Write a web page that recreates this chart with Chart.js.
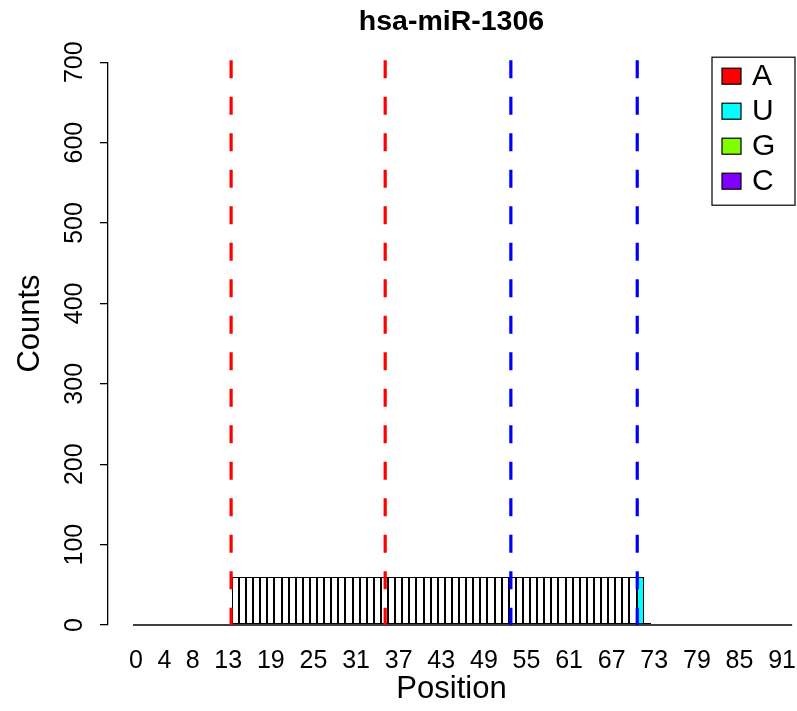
<!DOCTYPE html>
<html>
<head>
<meta charset="utf-8">
<title>hsa-miR-1306</title>
<script src="https://cdn.jsdelivr.net/npm/chart.js@4.4.1/dist/chart.umd.min.js"></script>
<style>
  html, body { margin:0; padding:0; background:#fff; }
  #wrap { width:797px; height:711px; }
</style>
</head>
<body>
<div id="wrap"><canvas id="chart" width="797" height="711"></canvas></div>
<script>
// Data
const chartTitle = 'hsa-miR-1306';
const yAxisTitle = 'Counts';
const positions = [
   0,  1,  2,  3,  4,  5,  6,  7,  8,  9,
  10, 11, 12, 13, 14, 15, 16, 17, 18, 19,
  20, 21, 22, 23, 24, 25, 26, 27, 28, 29,
  30, 31, 32, 33, 34, 35, 36, 37, 38, 39,
  40, 41, 42, 43, 44, 45, 46, 47, 48, 49,
  50, 51, 52, 53, 54, 55, 56, 57, 58, 59,
  60, 61, 62, 63, 64, 65, 66, 67, 68, 69,
  70, 71, 72, 73, 74, 75, 76, 77, 78, 79,
  80, 81, 82, 83, 84, 85, 86, 87, 88, 89,
  90, 91, 92
];
// reads matching the reference (white bars)
const refCounts = [
   0,  0,  0,  0,  0,  0,  0,  0,  0,  0,
   0,  0,  0,  0, 60, 60, 60, 60, 60, 60,
  60, 60, 60, 60, 60, 60, 60, 60, 60, 60,
  60, 60, 60, 60, 60, 60, 60, 60, 60, 60,
  60, 60, 60, 60, 60, 60, 60, 60, 60, 60,
  60, 60, 60, 60, 60, 60, 60, 60, 60, 60,
  60, 60, 60, 60, 60, 60, 60, 60, 60, 60,
  60,  0,  0,  0,  0,  0,  0,  0,  0,  0,
   0,  0,  0,  0,  0,  0,  0,  0,  0,  0,
   0,  0,  0
];
const aCounts = [
  0,0,0,0,0,0,0,0,0,0, 0,0,0,0,0,0,0,0,0,0,
  0,0,0,0,0,0,0,0,0,0, 0,0,0,0,0,0,0,0,0,0,
  0,0,0,0,0,0,0,0,0,0, 0,0,0,0,0,0,0,0,0,0,
  0,0,0,0,0,0,0,0,0,0, 0,0,0,0,0,0,0,0,0,0,
  0,0,0,0,0,0,0,0,0,0, 0,0,0
];
const uCounts = [
   0,  0,  0,  0,  0,  0,  0,  0,  0,  0,
   0,  0,  0,  0,  0,  0,  0,  0,  0,  0,
   0,  0,  0,  0,  0,  0,  0,  0,  0,  0,
   0,  0,  0,  0,  0,  0,  0,  0,  0,  0,
   0,  0,  0,  0,  0,  0,  0,  0,  0,  0,
   0,  0,  0,  0,  0,  0,  0,  0,  0,  0,
   0,  0,  0,  0,  0,  0,  0,  0,  0,  0,
   0, 60,  2,  1,  1,  0,  0,  0,  0,  0,
   0,  0,  0,  0,  0,  0,  0,  0,  0,  0,
   0,  0,  0
];
const gCounts = [
  0,0,0,0,0,0,0,0,0,0, 0,0,0,0,0,0,0,0,0,0,
  0,0,0,0,0,0,0,0,0,0, 0,0,0,0,0,0,0,0,0,0,
  0,0,0,0,0,0,0,0,0,0, 0,0,0,0,0,0,0,0,0,0,
  0,0,0,0,0,0,0,0,0,0, 0,0,0,0,0,0,0,0,0,0,
  0,0,0,0,0,0,0,0,0,0, 0,0,0
];
const cCounts = [
  0,0,0,0,0,0,0,0,0,0, 0,0,0,0,0,0,0,0,0,0,
  0,0,0,0,0,0,0,0,0,0, 0,0,0,0,0,0,0,0,0,0,
  0,0,0,0,0,0,0,0,0,0, 0,0,0,0,0,0,0,0,0,0,
  0,0,0,0,0,0,0,0,0,0, 0,0,0,0,0,0,0,0,0,0,
  0,0,0,0,0,0,0,0,0,0, 0,0,0
];
const xTickValues = [0, 4, 8, 13, 19, 25, 31, 37, 43, 49, 55, 61, 67, 73, 79, 85, 91];
const yTickValues = [0, 100, 200, 300, 400, 500, 600, 700];
// dashed marker lines (arm boundaries), in position units
const markerPositions = [13.4, 35.1, 52.8, 70.6];
const markerColors = ['#FF0000', '#FF0000', '#0000FF', '#0000FF'];

const FONT = '"Liberation Sans", Arial, Helvetica, sans-serif';

function pts(vals){ return positions.map((p, i) => ({x: p, y: vals[i]})); }

function series(label, vals, color, inLegend){
  return {
    label, data: pts(vals),
    backgroundColor: color, borderColor: '#000', borderWidth: 1,
    borderSkipped: false, barPercentage: 1, categoryPercentage: 1,
    inflateAmount: 0,
    inLegend
  };
}

// snap bar edges to whole pixels so the thin outlines stay crisp
const snapPlugin = {
  id: 'snapBars',
  beforeDatasetsDraw(chart){
    chart.data.datasets.forEach((d, i)=>{
      chart.getDatasetMeta(i).data.forEach(el=>{
        const l = Math.round(el.x - el.width / 2);
        const r = Math.round(el.x + el.width / 2);
        el.x = (l + r) / 2;
        el.width = r - l;
        el.y = Math.round(el.y);
        el.base = Math.round(el.base);
      });
    });
  }
};

// baseline for the zero-height bars, like R draws them
const baselinePlugin = {
  id: 'baseline',
  afterDatasetsDraw(chart){
    const {ctx, scales:{x, y}} = chart;
    const half = 0.5 / 1.2;
    const x0 = x.getPixelForValue(positions[0] - half);
    const x1 = x.getPixelForValue(positions[positions.length - 1] + half);
    const y0 = y.getPixelForValue(0);
    ctx.save();
    ctx.strokeStyle = '#000'; ctx.lineWidth = 1.3;
    ctx.beginPath(); ctx.moveTo(x0, y0); ctx.lineTo(x1, y0); ctx.stroke();
    ctx.restore();
  }
};

// vertical dashed lines
const markerPlugin = {
  id: 'markers',
  afterDatasetsDraw(chart){
    const {ctx, scales:{x, y}} = chart;
    ctx.save();
    ctx.lineWidth = 3.2;
    ctx.setLineDash([18, 18.5]);
    markerPositions.forEach((m, i)=>{
      const px = x.getPixelForValue(m);
      ctx.strokeStyle = markerColors[i];
      ctx.beginPath();
      ctx.moveTo(px, y.getPixelForValue(700) - 2);
      ctx.lineTo(px, y.getPixelForValue(0));
      ctx.stroke();
    });
    ctx.restore();
  }
};

// R style y labels and axis title, read bottom to top
const yLabelPlugin = {
  id: 'yLabels',
  afterDraw(chart){
    const {ctx, scales:{y}} = chart;
    ctx.save();
    ctx.fillStyle = '#000';
    ctx.textAlign = 'center';
    ctx.textBaseline = 'middle';
    ctx.font = '25px ' + FONT;
    y.ticks.forEach(t=>{
      ctx.save();
      ctx.translate(75, y.getPixelForValue(t.value));
      ctx.rotate(-Math.PI / 2);
      ctx.fillText(String(t.value), 0, 0);
      ctx.restore();
    });
    ctx.font = '31px ' + FONT;
    ctx.translate(30, y.getPixelForValue(375));
    ctx.rotate(-Math.PI / 2);
    ctx.fillText(yAxisTitle, 0, 0);
    ctx.restore();
  }
};

// boxed legend in the top-right corner
const legendPlugin = {
  id: 'boxLegend',
  afterDraw(chart){
    const {ctx, chartArea} = chart;
    const items = chart.data.datasets.filter(d => d.inLegend);
    const w = 83, rowH = 35, h = 148;
    const left = chartArea.right - w, top = chartArea.top - 5;
    ctx.save();
    ctx.fillStyle = '#fff';
    ctx.fillRect(left, top, w, h);
    ctx.strokeStyle = '#000'; ctx.lineWidth = 1.2;
    ctx.strokeRect(left, top, w, h);
    ctx.font = '30px ' + FONT;
    ctx.textBaseline = 'middle';
    items.forEach((d, i)=>{
      const cy = top + 19 + i * rowH;
      ctx.fillStyle = d.backgroundColor;
      ctx.fillRect(left + 10, cy - 8, 19, 16);
      ctx.strokeRect(left + 10, cy - 8, 19, 16);
      ctx.fillStyle = '#000';
      ctx.fillText(d.label, left + 40, cy + 1);
    });
    ctx.restore();
  }
};

new Chart(document.getElementById('chart'), {
  type: 'bar',
  data: {
    datasets: [
      series('ref', refCounts, '#FFFFFF', false),
      series('A', aCounts, '#FF0000', true),
      series('U', uCounts, '#00FFFF', true),
      series('G', gCounts, '#80FF00', true),
      series('C', cCounts, '#8000FF', true)
    ]
  },
  options: {
    responsive: false,
    animation: false,
    devicePixelRatio: 1,
    layout: { autoPadding: false, padding: { left: 0, right: 2, top: 0, bottom: 0 } },
    plugins: {
      legend: { display: false },
      tooltip: { enabled: false },
      title: {
        display: true, text: chartTitle, color: '#000', fullSize: false,
        font: { family: FONT, size: 28.5, weight: 'bold' },
        padding: { top: 5, bottom: 23 }
      }
    },
    scales: {
      x: {
        type: 'linear', stacked: true, offset: false,
        min: -3.94, max: 92.82,
        afterBuildTicks(scale){ scale.ticks = xTickValues.map(v => ({value: v})); },
        afterFit(scale){ scale.height = 86; scale.paddingLeft = 0; scale.paddingRight = 0; },
        grid: { display: false, drawTicks: false, offset: false },
        border: { display: false },
        ticks: {
          color: '#000', font: { family: FONT, size: 25 },
          autoSkip: false, maxRotation: 0, minRotation: 0, padding: 21,
          callback: v => String(v)
        },
        title: {
          display: true, text: 'Position', color: '#000',
          font: { family: FONT, size: 31 }, padding: { top: 0, bottom: 3 }
        }
      },
      y: {
        type: 'linear', stacked: true, min: 0, max: 700,
        afterBuildTicks(scale){ scale.ticks = yTickValues.map(v => ({value: v})); },
        afterFit(scale){ scale.width = 108; scale.paddingTop = 0; scale.paddingBottom = 0; },
        grid: { display: true, drawOnChartArea: false, drawTicks: true, tickLength: 8, color: '#000', lineWidth: 1.3 },
        border: { display: true, color: '#000', width: 1.3 },
        ticks: { display: false },
        title: { display: false }
      }
    }
  },
  plugins: [snapPlugin, baselinePlugin, markerPlugin, yLabelPlugin, legendPlugin]
});
</script>
</body>
</html>
